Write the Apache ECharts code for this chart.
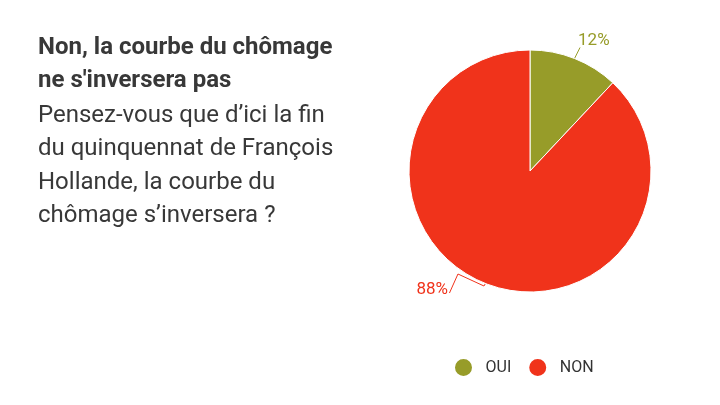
<!DOCTYPE html>
<html><head><meta charset="utf-8">
<script src="https://cdn.jsdelivr.net/npm/echarts@6/dist/echarts.min.js"></script>
<style>html,body{margin:0;padding:0;background:#fff}#c{width:720px;height:405px}</style>
</head><body><div id="c"></div>
<script>
const categories = ['OUI', 'NON'];
const values = [12, 88];
const colors = ['#979c29', '#f0331b'];
const titleLines = ['Non, la courbe du chômage', "ne s'inversera pas"];
const subLines = ["Pensez-vous que d’ici la fin", 'du quinquennat de François', 'Hollande, la courbe du', "chômage s’inversera ?"];

const chart = echarts.init(document.getElementById('c'));
chart.setOption({
  animation: false,
  title: {
    left: 33, top: 26,
    text: titleLines.join('\n'),
    subtext: subLines.join('\n'),
    itemGap: 1,
    textStyle: { fontFamily: 'Roboto', fontSize: 24, fontWeight: 'bold', color: '#383838', lineHeight: 33.5 },
    subtextStyle: { fontFamily: 'Roboto', fontSize: 24, color: '#383838', lineHeight: 33.5 }
  },
  legend: {
    left: 448, top: 352,
    icon: 'circle', itemWidth: 20, itemHeight: 19, itemGap: 16,
    textStyle: { fontFamily: 'Roboto', fontSize: 16, color: '#333', padding: [0, 0, 0, 7] },
    data: categories
  },
  series: [{
    type: 'pie',
    center: [530, 171], radius: 121,
    startAngle: 90, clockwise: true,
    itemStyle: { borderColor: '#fff', borderWidth: 1 },
    label: { formatter: '{d}%', fontFamily: 'Roboto', fontSize: 17 },
    labelLine: { length: 10, length2: 0, smooth: false, lineStyle: { width: 1 } },
    labelLayout: function (p) {
      const a = p.labelLinePoints[0];
      if (p.dataIndex === 0) {
        return {
          x: a[0] + 3.5, y: a[1] - 17.5, align: 'left', verticalAlign: 'middle',
          labelLinePoints: [[a[0], a[1]], [a[0] + 5.5, a[1] - 11], [a[0] + 5.5, a[1] - 11]]
        };
      }
      return {
        x: a[0] - 37.5, y: a[1] + 6, align: 'right', verticalAlign: 'middle',
        labelLinePoints: [[a[0], a[1]], [a[0] - 1.5, a[1] + 2.5], [a[0] - 27.5, a[1] - 9.5], [a[0] - 36, a[1] + 9.5]]
      };
    },
    data: categories.map((c, i) => ({
      name: c, value: values[i],
      itemStyle: { color: colors[i] },
      label: { color: colors[i] },
      labelLine: { lineStyle: { color: colors[i] } }
    }))
  }]
});
</script></body></html>
